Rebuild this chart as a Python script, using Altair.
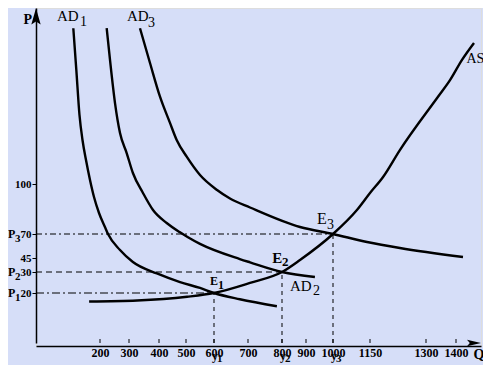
import altair as alt
import pandas as pd

# ---------------- data ----------------
AS_Q = [166, 327, 504, 600, 706, 800, 875, 1000, 1097, 1150, 1185, 1230, 1337, 1380, 1424, 1472]
AS_P = [16.6, 17.0, 18.5, 20, 24.8, 30, 42.9, 70, 84.4, 94.6, 104, 119.3, 148.9, 159, 170.5, 180.1]

AD1_Q = [116.6, 126, 135.9, 145.3, 156.25, 168.75, 181.25, 196.9, 217, 227.6, 269, 313, 393, 478, 550, 600, 676, 785]
AD1_P = [188.5, 164.8, 139.2, 125, 113.6, 102.3, 92.2, 82.6, 74.2, 70, 53.3, 40.7, 29.3, 25.2, 22.4, 20, 17.5, 14.7]

AD2_Q = [223, 234.5, 251.75, 269, 292, 313, 346.6, 380, 428.5, 477.7, 507, 550, 676, 706, 800, 933]
AD2_P = [188.5, 170.5, 146, 129, 117.6, 106.25, 94.6, 84.4, 76.6, 71, 66.6, 59.7, 43.9, 40.4, 30, 27.6]

AD3_Q = [336.6, 370, 403.7, 440.7, 465.5, 502.5, 550, 609, 647, 706, 875, 1000, 1138, 1230, 1428]
AD3_P = [188.5, 168.75, 149.6, 134.7, 125, 115.5, 105.1, 96.4, 91.3, 85.9, 74.2, 70, 61.7, 55.4, 46]

# equilibria
EQ_NAMES = ["E1", "E2", "E3"]
EQ_Q = [600, 800, 1000]
EQ_P = [20, 30, 70]
EQ_SUB = ["1", "2", "3"]
P_SUB = ["1", "2", "3"]

# axis tick labels (non-uniform, as drawn)
X_TICKS = [200, 300, 400, 500, 600, 700, 800, 900, 1000, 1150, 1300, 1400]
Y_TICKS = [20, 30, 45, 70, 100]

# annotation texts (text, Q, P, font size)
REG_TEXT = ["AD", "1", "AD", "3", "AD", "2", "E", "3", "AS"]
REG_Q = [65.6, 137.5, 293, 363, 833, 926, 941, 978, 1442]
REG_P = [192.6, 189.8, 192.6, 189.2, 21, 19.2, 76, 73, 168.75]
REG_SIZE = [15, 14, 15, 14, 15, 14, 16, 14, 14]

BOLD_TEXT = ["E", "1", "E", "2"]
BOLD_Q = [586, 612, 771, 800]
BOLD_P = [23.8, 21.9, 39.6, 36.4]
BOLD_SIZE = [12, 12, 15, 13]

# ---------------- scales (hand-drawn, piecewise axes) ----------------
X_DOMAIN = [0, 200, 300, 400, 500, 600, 700, 800, 900, 1000, 1150, 1300, 1400, 1500]
X_RANGE = [0, 64, 93, 123, 150, 178, 212, 246, 270, 297, 334, 390, 420, 445]
Y_DOMAIN = [0, 20, 30, 45, 70, 100, 200]
Y_RANGE = [335, 285, 264, 250, 226, 176, 0]

FONT = "Liberation Serif"
BG = "#D6DEF8"
AXIS_Y = Y_RANGE[0]

xs = alt.Scale(domain=X_DOMAIN, range=X_RANGE, nice=False, zero=False)
ys = alt.Scale(domain=Y_DOMAIN, range=Y_RANGE, nice=False, zero=False)

curves = pd.concat([
    pd.DataFrame({"Q": AS_Q, "P": AS_P, "s": "AS"}),
    pd.DataFrame({"Q": AD1_Q, "P": AD1_P, "s": "AD1"}),
    pd.DataFrame({"Q": AD2_Q, "P": AD2_P, "s": "AD2"}),
    pd.DataFrame({"Q": AD3_Q, "P": AD3_P, "s": "AD3"}),
])

eq = pd.DataFrame({"name": EQ_NAMES, "Q": EQ_Q, "P": EQ_P, "zero": [0, 0, 0],
                   "psub": P_SUB, "ysub": EQ_SUB})

base = alt.Chart(curves)

lines = base.mark_line(interpolate="monotone", color="black", strokeWidth=2.4).encode(
    x=alt.X("Q:Q", scale=xs,
            axis=alt.Axis(values=X_TICKS, format="d", ticks=False, tickSize=0, grid=False,
                          labelFont=FONT, labelFontSize=12, labelFontWeight="bold",
                          labelColor="black", labelPadding=1, labelFlush=False,
                          domainColor="black", domainWidth=1.5,
                          title="Q", titleFont=FONT, titleFontSize=14, titleFontWeight="bold",
                          titleColor="black", titleX=437, titleY=12, titleAlign="left",
                          titleBaseline="alphabetic", titleAngle=0)),
    y=alt.Y("P:Q", scale=ys,
            axis=alt.Axis(values=Y_TICKS, grid=False, tickSize=4, tickColor="black",
                          tickWidth=1, labelFont=FONT, labelFontSize=11,
                          labelFontWeight="bold", labelColor="black", labelPadding=1,
                          domainColor="black", domainWidth=1.5,
                          title="P", titleFont=FONT, titleFontSize=14, titleFontWeight="bold",
                          titleColor="black", titleX=-13, titleY=15, titleAngle=0,
                          titleAlign="left", titleBaseline="alphabetic")),
    detail="s:N",
)

def hline(i, dash):
    d = eq.iloc[[i]]
    return alt.Chart(d).mark_rule(color="black", strokeWidth=1, strokeDash=dash).encode(
        x=alt.X("zero:Q", scale=xs), x2="Q:Q", y=alt.Y("P:Q", scale=ys))

def vline(i):
    d = eq.iloc[[i]]
    return alt.Chart(d).mark_rule(color="black", strokeWidth=1, strokeDash=[4, 4]).encode(
        x=alt.X("Q:Q", scale=xs), y=alt.Y("zero:Q", scale=ys), y2="P:Q")

guides = [hline(0, [8, 3, 2, 3]), hline(1, [6, 4]), hline(2, [6, 3, 2, 3]),
          vline(0), vline(1), vline(2)]

ticks_df = pd.DataFrame({"Q": X_TICKS})
xticks = alt.Chart(ticks_df).mark_rule(color="black", strokeWidth=1).encode(
    x=alt.X("Q:Q", scale=xs), y=alt.value(AXIS_Y), y2=alt.value(AXIS_Y - 4))

arrows_df = pd.DataFrame({"Q": [0], "P": [195]})
yarrow = alt.Chart(arrows_df).mark_point(
    shape="M0,-1L0.55,0.9L0,0.55L-0.55,0.9Z", size=289, filled=True,
    color="black", opacity=1, strokeWidth=0).encode(
    x=alt.X("Q:Q", scale=xs), y=alt.Y("P:Q", scale=ys))
xarrow_df = pd.DataFrame({"Q": [1472], "P": [0]})
xarrow = alt.Chart(xarrow_df).mark_point(
    shape="M1,0L-1,-0.45L-0.6,0L-1,0.45Z", size=196, filled=True,
    color="black", opacity=1, strokeWidth=0).encode(
    x=alt.X("Q:Q", scale=xs), y=alt.Y("P:Q", scale=ys))

reg = pd.DataFrame({"t": REG_TEXT, "Q": REG_Q, "P": REG_P, "size": REG_SIZE})
reg_text = alt.Chart(reg).mark_text(font=FONT, align="left", baseline="alphabetic",
                                    color="black").encode(
    x=alt.X("Q:Q", scale=xs), y=alt.Y("P:Q", scale=ys), text="t:N",
    size=alt.Size("size:Q", scale=None))

bold = pd.DataFrame({"t": BOLD_TEXT, "Q": BOLD_Q, "P": BOLD_P, "size": BOLD_SIZE})
bold_text = alt.Chart(bold).mark_text(font=FONT, fontWeight="bold", align="left",
                                      baseline="alphabetic", color="black").encode(
    x=alt.X("Q:Q", scale=xs), y=alt.Y("P:Q", scale=ys), text="t:N",
    size=alt.Size("size:Q", scale=None))

# P1, P2, P3 beside the price axis
p_letter = alt.Chart(eq).mark_text(text="P", font=FONT, fontWeight="bold", fontSize=12,
                                   align="left", baseline="alphabetic", dy=4,
                                   color="black").encode(
    x=alt.value(-28), y=alt.Y("P:Q", scale=ys))
p_sub = alt.Chart(eq).mark_text(font=FONT, fontWeight="bold", fontSize=11,
                                align="left", baseline="alphabetic", dy=8,
                                color="black").encode(
    x=alt.value(-21), y=alt.Y("P:Q", scale=ys), text="psub:N")

# y1, y2, y3 under the quantity axis
y_letter = alt.Chart(eq).mark_text(text="y", font=FONT, fontWeight="bold", fontSize=12,
                                   align="left", baseline="alphabetic", dx=-2,
                                   color="black").encode(
    x=alt.X("Q:Q", scale=xs), y=alt.value(AXIS_Y + 17))
y_sub = alt.Chart(eq).mark_text(font=FONT, fontWeight="bold", fontSize=11,
                                align="left", baseline="alphabetic", dx=3,
                                color="black").encode(
    x=alt.X("Q:Q", scale=xs), y=alt.value(AXIS_Y + 19), text="ysub:N")

chart = alt.layer(
    *guides, xticks, lines, yarrow, xarrow, reg_text, bold_text,
    p_letter, p_sub, y_letter, y_sub,
).properties(
    width=445, height=338,
    padding={"left": 28, "top": 0, "right": 2, "bottom": 19},
    autosize=alt.AutoSizeParams(type="none"),
    background=BG,
).configure_view(stroke=None).configure(font=FONT)

chart.save("out.html", embed_options={"renderer": "svg", "actions": False})
